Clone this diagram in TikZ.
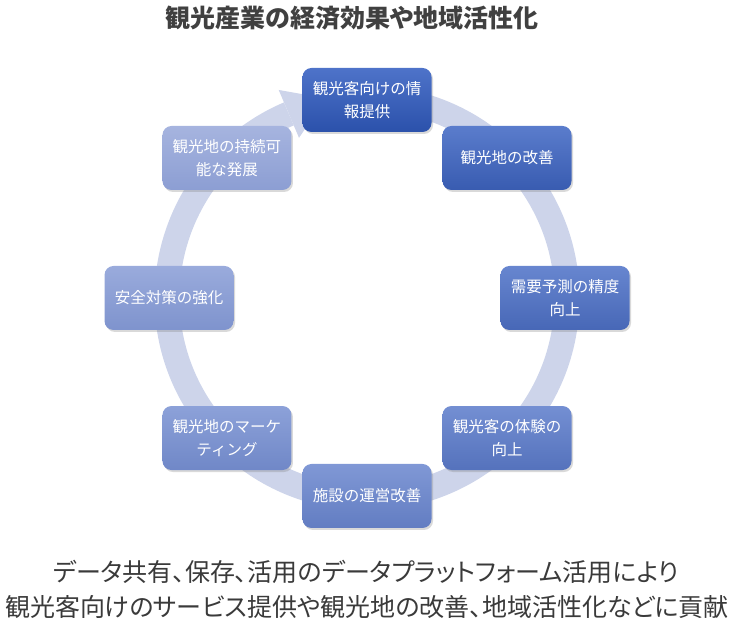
\documentclass[tikz,border=0pt]{standalone}
\usepackage{fontspec}
\newfontfamily\jpfont{Noto Sans CJK JP}
\newfontfamily\jppfont[RawFeature=+palt]{Noto Sans CJK JP}
\usetikzlibrary{calc,shadows}

\definecolor{ringcol}{HTML}{CDD4EA}
\definecolor{darktop}{HTML}{4E73C9}
\definecolor{darkbot}{HTML}{2B51AB}
\definecolor{lighttop}{HTML}{A6B4DF}
\definecolor{lightbot}{HTML}{8C9ED3}
\definecolor{titlegray}{HTML}{404040}
\definecolor{notegray}{HTML}{3A3A3A}

\tikzset{
    stepbox/.style={rectangle, rounded corners=9bp, minimum width=129bp,
        minimum height=64bp, align=center, text=white,
        font=\jpfont\fontsize{15.5bp}{23bp}\selectfont,
        drop shadow={opacity=0.3, shadow xshift=1.5bp, shadow yshift=-2bp}},
    ringline/.style={draw=ringcol, line width=25bp},
    titletext/.style={text=titlegray, font=\jppfont\bfseries\fontsize{25bp}{29bp}\selectfont},
    notetext/.style={text=notegray, font=\jppfont\fontsize{25bp}{30bp}\selectfont},
}

\begin{document}
\begin{tikzpicture}[x=1bp, y=1bp]
    \useasboundingbox (0,0) rectangle (734,633);
    \coordinate (hub) at (367,335);
    % cycle ring with head
    \draw[ringline] ($(hub)+(85:200)$) arc[start angle=85, end angle=-247, radius=200bp];
    \fill[ringcol] ($(hub)+(113:226)$) -- ($(hub)+(113:174)$)
        -- ($(hub)+(113:200)+(23:40)$) -- cycle;
    % steps
    \foreach \i/\ang/\p/\txt in {
        1/90/100/{観光客向けの情\\報提供},
        2/45/86/{観光地の改善},
        3/0/71/{需要予測の精度\\向上},
        4/-45/57/{観光客の体験の\\向上},
        5/-90/43/{施設の運営改善},
        6/-135/29/{観光地のマーケ\\ティング},
        7/180/14/{安全対策の強化},
        8/135/0/{観光地の持続可\\能な発展}}
    {
        \node[stepbox, top color=darktop!\p!lighttop, bottom color=darkbot!\p!lightbot]
            (b\i) at ($(hub)+(\ang:198)$) {\txt};
    }
    \node[titletext] (title) at (352,615) {観光産業の経済効果や地域活性化};
    \node[notetext] (note1) at (366,61) {データ共有、保存、活用のデータプラットフォーム活用により};
    \node[notetext] (note2) at (367,26) {観光客向けのサービス提供や観光地の改善、地域活性化などに貢献};
\end{tikzpicture}
\end{document}
